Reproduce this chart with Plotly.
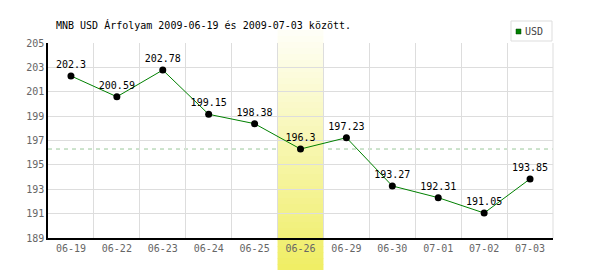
import plotly.graph_objects as go

dates = ["06-19", "06-22", "06-23", "06-24", "06-25", "06-26", "06-29", "06-30", "07-01", "07-02", "07-03"]
usd = [202.3, 200.59, 202.78, 199.15, 198.38, 196.3, 197.23, 193.27, 192.31, 191.05, 193.85]
highlight_date = "06-26"
ref_value = 196.3
y_ticks = [189, 191, 193, 195, 197, 199, 201, 203, 205]
title = "MNB USD Árfolyam 2009-06-19 és 2009-07-03 között."

FONT = "DejaVu Sans Mono"

fig = go.Figure()

fig.add_trace(go.Scatter(
    x=dates, y=usd, mode="lines+markers+text",
    text=[f"{v:g}" for v in usd], textposition="top center",
    textfont=dict(family=FONT, size=10, color="#000000"),
    line=dict(color="#008000", width=1),
    marker=dict(color="#000000", size=7),
    name="USD", showlegend=False, cliponaxis=False,
))

shapes = []
shapes.append(dict(type="line", xref="paper", yref="y", x0=0, x1=1, y0=ref_value, y1=ref_value,
                   line=dict(color="#99c899", width=1, dash="4px,4px"), layer="below"))

# highlight band gradient (light at top, yellow at bottom)
hi = dates.index(highlight_date)
n = 40
top_p, bot_p = 1.0 + 13/195, -32/195
c0 = (255, 255, 248)
c1 = (240, 238, 100)
for i in range(n):
    f = (i + 0.5) / n
    r = int(c0[0] + (c1[0] - c0[0]) * f)
    g = int(c0[1] + (c1[1] - c0[1]) * f)
    b = int(c0[2] + (c1[2] - c0[2]) * f)
    y_hi = top_p - (top_p - bot_p) * i / n
    y_lo = top_p - (top_p - bot_p) * (i + 1) / n
    shapes.append(dict(type="rect", xref="x", yref="paper",
                       x0=hi - 0.5, x1=hi + 0.5, y0=y_lo - 0.002, y1=y_hi,
                       fillcolor=f"rgb({r},{g},{b})", line=dict(width=0), layer="below"))

# legend box
shapes.append(dict(type="rect", xref="paper", yref="paper",
                   x0=(511 - 48) / 505, x1=(552 - 48) / 505,
                   y0=1 + (43 - 41) / 195, y1=1 + (43 - 21) / 195,
                   fillcolor="#ffffff", line=dict(color="#dddddd", width=1)))
shapes.append(dict(type="rect", xref="paper", yref="paper",
                   x0=(516 - 48) / 505, x1=(521 - 48) / 505,
                   y0=1 + (43 - 34) / 195, y1=1 + (43 - 29) / 195,
                   fillcolor="#008000", line=dict(color="#004000", width=0.5)))
# right border gridline
shapes.append(dict(type="line", xref="paper", yref="paper", x0=1, x1=1, y0=0, y1=1,
                   line=dict(color="#dddddd", width=1), layer="below"))

fig.update_layout(
    width=600, height=270,
    margin=dict(l=48, r=47, t=43, b=32),
    paper_bgcolor="#ffffff", plot_bgcolor="#ffffff",
    showlegend=False,
    shapes=shapes,
    annotations=[
        dict(text=title, xref="paper", yref="paper", x=(54 - 48) / 505, y=1 + (43 - 25) / 195,
             xanchor="left", yanchor="middle", showarrow=False,
             font=dict(family=FONT, size=10, color="#000000")),
        dict(text="USD", xref="paper", yref="paper", x=(523 - 48) / 505, y=1 + (43 - 31.5) / 195,
             xanchor="left", yanchor="middle", showarrow=False,
             font=dict(family=FONT, size=10, color="#444444")),
    ],
    xaxis=dict(
        type="category", categoryorder="array", categoryarray=dates,
        range=[-0.5, len(dates) - 0.5],
        tickson="boundaries", ticks="", showgrid=True, gridcolor="#dddddd", gridwidth=1,
        showline=True, linecolor="#000000", linewidth=1.5, mirror=False,
        tickfont=dict(family=FONT, size=10, color="#666666"),
        fixedrange=True,
    ),
    yaxis=dict(
        range=[189, 205], tickvals=y_ticks, ticktext=[str(v) for v in y_ticks],
        showgrid=True, gridcolor="#dddddd", gridwidth=1, zeroline=False,
        showline=True, linecolor="#000000", linewidth=1.5,
        tickfont=dict(family=FONT, size=10, color="#666666"), ticks="",
        fixedrange=True,
    ),
)

fig.write_html("out.html")
